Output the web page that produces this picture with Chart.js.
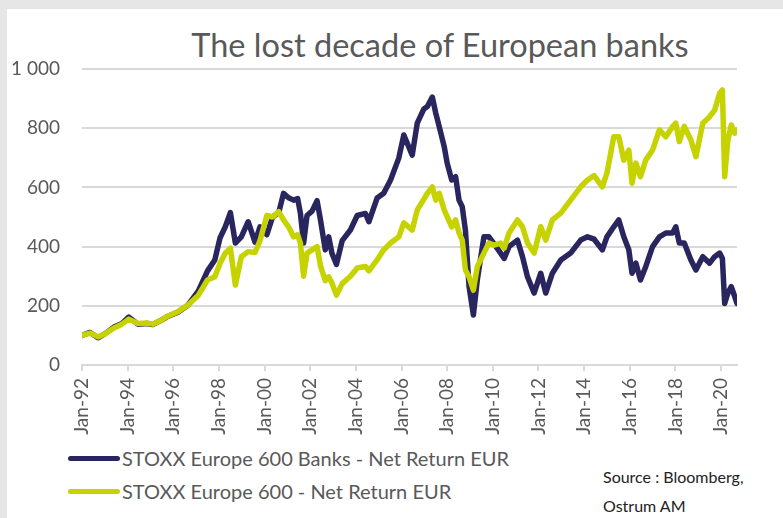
<!DOCTYPE html>
<html>
<head>
<meta charset="utf-8">
<script src="https://cdn.jsdelivr.net/npm/chart.js@4/dist/chart.umd.min.js"></script>
<style>
  html, body { margin: 0; padding: 0; }
  body { width: 783px; height: 518px; background: #e6e6e6; position: relative; overflow: hidden; font-family: Lato, "Open Sans", sans-serif; }
  #paper { position: absolute; left: 7px; top: 9px; right: 0; bottom: 0; background: #ffffff; }
  #wrap { position: absolute; left: 0; top: 0; width: 783px; height: 445px; }
  #title { position: absolute; left: 140px; width: 600px; top: 29px; text-align: center; font-size: 32.5px; line-height: 32px; color: #595959; white-space: nowrap; }
  .leg { position: absolute; left: 68px; height: 24px; display: flex; align-items: center; font-size: 20px; color: #595959; white-space: nowrap; }
  .leg span.swatch { display: inline-block; width: 52px; height: 5px; border-radius: 3px; margin-right: 2px; }
  .src { position: absolute; left: 603px; font-size: 16px; color: #222; white-space: nowrap; }
</style>
</head>
<body>
<div id="paper"></div>
<div id="title">The lost decade of European banks</div>
<div id="wrap"><canvas id="c" width="783" height="445"></canvas></div>
<div class="leg" style="top:446px"><span class="swatch" id="sw0"></span><span id="lg0"></span></div>
<div class="leg" style="top:479px"><span class="swatch" id="sw1"></span><span id="lg1"></span></div>
<div class="src" style="top:467px">Source : Bloomberg,</div>
<div class="src" style="top:496px">Ostrum AM</div>
<script>
// ---- data (decimal year) ----
const seriesNames = ["STOXX Europe 600 Banks - Net Return EUR", "STOXX Europe 600 - Net Return EUR"];
const seriesColors = ["#29255f", "#c6d300"];
const dates = [
  1992.0, 1992.35, 1992.7, 1993.0, 1993.4, 1993.75, 1994.05, 1994.45, 1994.85, 1995.1,
  1995.45, 1995.7, 1996.2, 1996.65, 1997.1, 1997.5, 1997.82, 1998.05, 1998.28, 1998.5,
  1998.72, 1998.98, 1999.28, 1999.58, 1999.8, 2000.1, 2000.35, 2000.62, 2000.83, 2001.05,
  2001.27, 2001.45, 2001.57, 2001.71, 2001.86, 2002.08, 2002.3, 2002.45, 2002.66, 2002.81,
  2002.95, 2003.15, 2003.4, 2003.76, 2004.06, 2004.42, 2004.57, 2004.93, 2005.22, 2005.52,
  2005.88, 2006.1, 2006.47, 2006.69, 2006.98, 2007.13, 2007.35, 2007.5, 2007.65, 2007.87,
  2008.0, 2008.2, 2008.37, 2008.52, 2008.66, 2008.8, 2008.96, 2009.15, 2009.32, 2009.61,
  2009.83, 2010.05, 2010.34, 2010.5, 2010.71, 2011.08, 2011.3, 2011.52, 2011.81, 2012.1,
  2012.32, 2012.61, 2012.98, 2013.41, 2013.85, 2014.15, 2014.44, 2014.8, 2015.0, 2015.3,
  2015.52, 2015.74, 2015.96, 2016.1, 2016.27, 2016.47, 2016.7, 2017.0, 2017.3, 2017.58,
  2017.88, 2018.02, 2018.17, 2018.39, 2018.68, 2018.9, 2019.2, 2019.5, 2019.72, 2019.94,
  2020.06, 2020.16, 2020.3, 2020.45, 2020.6, 2020.7
];
const banks = [
  100, 110, 92, 105, 128, 140, 162, 138, 140, 137,
  150, 162, 178, 203, 250, 318, 355, 430, 467, 515,
  412, 433, 484, 415, 467, 440, 500, 515, 580, 565,
  557, 562, 513, 412, 505, 520, 555, 490, 389, 433,
  378, 340, 420, 456, 505, 512, 484, 564, 580, 625,
  699, 777, 709, 817, 865, 873, 905, 851, 806, 738,
  682, 625, 636, 557, 535, 456, 265, 169, 287, 433,
  433, 410, 378, 360, 400, 422, 366, 298, 243, 310,
  243, 310, 355, 378, 422, 433, 425, 389, 433, 467,
  490, 433, 389, 310, 344, 287, 332, 400, 433, 446,
  446, 467, 412, 412, 355, 321, 366, 344, 366, 378,
  360, 208, 243, 265, 231, 208
];
const stoxx600 = [
  100, 108, 95, 105, 125, 138, 155, 140, 142, 138,
  150, 163, 180, 203, 236, 287, 298, 344, 378, 395,
  270, 366, 383, 380, 420, 505, 500, 518, 490, 467,
  433, 440, 412, 300, 378, 389, 400, 335, 285, 298,
  277, 236, 275, 300, 328, 333, 318, 355, 389, 412,
  433, 480, 456, 524, 560, 580, 602, 557, 580, 524,
  501, 467, 490, 446, 422, 321, 298, 253, 332, 378,
  412, 405, 412, 395, 446, 490, 467, 412, 378, 467,
  422, 490, 513, 557, 602, 625, 640, 602, 648, 771,
  771, 692, 726, 614, 682, 636, 692, 726, 794, 771,
  806, 817, 755, 806, 760, 704, 817, 839, 861, 918,
  929, 636, 760, 811, 783, 794
];
const yTicks = [0, 200, 400, 600, 800, 1000];
const xTickYears = [1992, 1994, 1996, 1998, 2000, 2002, 2004, 2006, 2008, 2010, 2012, 2014, 2016, 2018, 2020];

// ---- legend text ----
document.getElementById('lg0').textContent = seriesNames[0];
document.getElementById('lg1').textContent = seriesNames[1];
document.getElementById('sw0').style.background = seriesColors[0];
document.getElementById('sw1').style.background = seriesColors[1];

const toPts = vals => vals.map((v, i) => ({ x: dates[i], y: v }));
const tickFont = { family: 'Lato', size: 19 };

new Chart(document.getElementById('c'), {
  type: 'line',
  data: {
    datasets: [
      { label: seriesNames[0], data: toPts(banks), borderColor: seriesColors[0], borderWidth: 5.5, pointRadius: 0, tension: 0, borderJoinStyle: 'round', borderCapStyle: 'round', order: 1 },
      { label: seriesNames[1], data: toPts(stoxx600), borderColor: seriesColors[1], borderWidth: 5.5, pointRadius: 0, tension: 0, borderJoinStyle: 'round', borderCapStyle: 'round', order: 0 }
    ]
  },
  options: {
    responsive: false,
    animation: false,
    events: [],
    layout: { padding: { top: 69, left: 10, right: 46, bottom: 0 } },
    plugins: { legend: { display: false }, title: { display: false }, tooltip: { enabled: false } },
    scales: {
      x: {
        type: 'linear',
        min: dates[0],
        max: dates[dates.length - 1],
        afterBuildTicks: s => { s.ticks = xTickYears.map(v => ({ value: v })); },
        afterFit: s => { s.height = 80; },
        ticks: {
          autoSkip: false,
          minRotation: 90, maxRotation: 90,
          padding: 7,
          color: '#595959',
          font: tickFont,
          callback: v => 'Jan-' + String(Math.round(v) % 100).padStart(2, '0')
        },
        grid: { drawOnChartArea: false, drawTicks: true, tickLength: 6, color: '#d9d9d9', lineWidth: 2 },
        border: { display: true, color: '#d9d9d9', width: 2 }
      },
      y: {
        type: 'linear',
        min: yTicks[0],
        max: yTicks[yTicks.length - 1],
        afterBuildTicks: s => { s.ticks = yTicks.map(v => ({ value: v })); },
        afterFit: s => { s.width = 72; },
        ticks: {
          padding: 22,
          color: '#595959',
          font: tickFont,
          callback: v => String(v).replace(/\B(?=(\d{3})+(?!\d))/g, ' ')
        },
        grid: { drawTicks: false, color: '#d9d9d9', lineWidth: 2 },
        border: { display: false }
      }
    }
  }
});
</script>
</body>
</html>
